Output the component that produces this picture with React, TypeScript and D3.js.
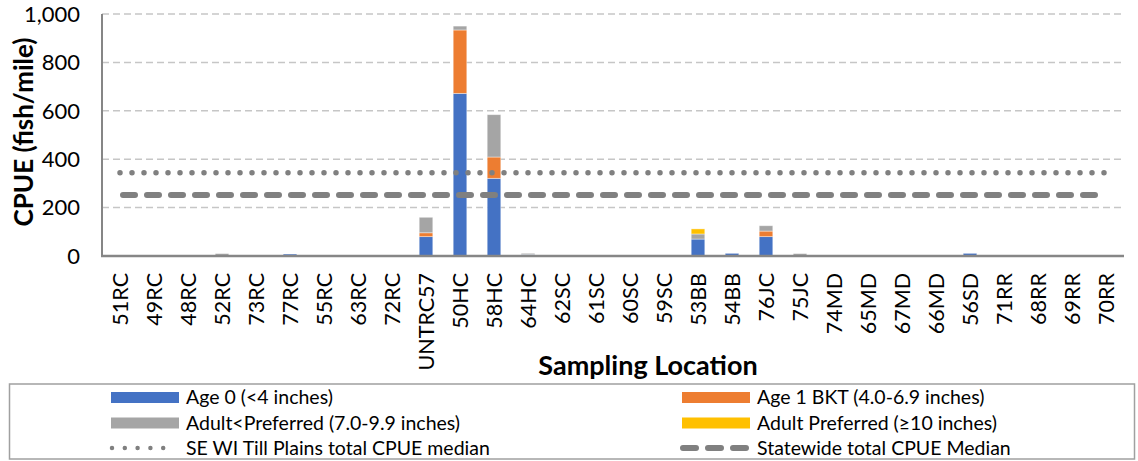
import React from 'react';
import * as d3 from 'd3';

const categories = [
  '51RC', '49RC', '48RC', '52RC', '73RC', '77RC', '55RC', '63RC', '72RC', 'UNTRC57',
  '50HC', '58HC', '64HC', '62SC', '61SC', '60SC', '59SC', '53BB', '54BB', '76JC',
  '75JC', '74MD', '65MD', '67MD', '66MD', '56SD', '71RR', '68RR', '69RR', '70RR',
];

// CPUE (fish/mile) per size class
const age0 = [0, 0, 0, 0, 0, 8, 0, 0, 0, 80, 672, 321, 6, 0, 0, 0, 0, 70, 11, 80, 0, 0, 0, 0, 0, 11, 0, 0, 0, 0];
const age1 = [0, 0, 0, 0, 0, 0, 0, 0, 0, 16, 262, 88, 0, 0, 0, 0, 0, 0, 0, 23, 0, 0, 0, 0, 0, 0, 0, 0, 0, 0];
const adultSub = [0, 0, 0, 10, 0, 0, 0, 0, 0, 64, 16, 175, 5, 0, 0, 0, 0, 21, 0, 22, 10, 0, 0, 0, 0, 0, 0, 0, 0, 0];
const adultPref = [0, 0, 0, 0, 0, 0, 0, 0, 0, 0, 0, 0, 0, 0, 0, 0, 0, 21, 0, 0, 0, 0, 0, 0, 0, 0, 0, 0, 0, 0];

const seriesNames = [
  'Age 0 (<4 inches)',
  'Age 1 BKT (4.0-6.9 inches)',
  'Adult<Preferred (7.0-9.9 inches)',
  'Adult Preferred (≥10 inches)',
];
const seriesColors = ['#4472c4', '#ed7d31', '#a5a5a5', '#ffc000'];

const regionMedian = 344;
const stateMedian = 252;
const yTicks = [0, 200, 400, 600, 800, 1000];

const W = 1138;
const H = 461;
const font = 'Lato, "Open Sans", sans-serif';

export default function App() {
  const x = d3.scaleBand<string>()
    .domain(categories)
    .range([103, 1123])
    .paddingInner(0.6)
    .paddingOuter(0.3);
  const y = d3.scaleLinear().domain([0, 1000]).range([256, 14]);

  const rows = categories.map((c, i) => ({
    cat: c, s0: age0[i], s1: age1[i], s2: adultSub[i], s3: adultPref[i],
  }));
  const keys = ['s0', 's1', 's2', 's3'];
  const stacked = d3.stack<any>().keys(keys)(rows);

  const cx = (c: string) => (x(c) as number) + x.bandwidth() / 2;
  const lineX0 = cx(categories[0]);
  const lineX1 = cx(categories[categories.length - 1]);
  const fmt = d3.format(',');

  return (
    <svg width={W} height={H} style={{ position: 'absolute', left: 0, top: 0 }} fontFamily={font}>
      <rect width={W} height={H} fill="#fff" />
      {/* gridlines */}
      {yTicks.filter(t => t > 0).map(t => (
        <line key={t} x1={102} x2={1124} y1={y(t)} y2={y(t)}
          stroke="#c6c6c6" strokeWidth={1.5} strokeDasharray="7,4" />
      ))}
      {/* bars */}
      {stacked.map((layer, k) => (
        <g key={k} fill={seriesColors[k]}>
          {layer.map((d, i) => d[1] - d[0] > 0 ? (
            <rect key={i} x={x(categories[i])} width={x.bandwidth()}
              y={y(d[1])} height={y(d[0]) - y(d[1])}
              stroke="#ffffff" strokeOpacity={0.5} strokeWidth={0.8} />
          ) : null)}
        </g>
      ))}
      {/* medians */}
      <line x1={lineX0} x2={lineX1} y1={y(regionMedian)} y2={y(regionMedian)}
        stroke="#808080" strokeWidth={5.5} strokeLinecap="round" strokeDasharray="0,12" />
      <line x1={lineX0 + 3} x2={lineX1} y1={y(stateMedian)} y2={y(stateMedian)}
        stroke="#808080" strokeWidth={6} strokeLinecap="round" strokeDasharray="12,12" />
      {/* axes */}
      <line x1={102} x2={102} y1={y(1000)} y2={y(0)} stroke="#868686" strokeWidth={2} />
      <line x1={101} x2={1124} y1={y(0)} y2={y(0)} stroke="#868686" strokeWidth={2.5} />
      {yTicks.map(t => (
        <text key={t} x={80} y={y(t)} dy="0.35em" textAnchor="end" fontSize={22} fill="#000">{fmt(t)}</text>
      ))}
      {categories.map(c => (
        <text key={c} transform={`translate(${cx(c)},273) rotate(-90)`} dy="0.35em"
          textAnchor="end" fontSize={21.5} fill="#000">{c}</text>
      ))}
      <text transform="translate(24,132) rotate(-90)" dy="0.35em" textAnchor="middle"
        fontSize={26} fontWeight="bold" fill="#000">CPUE (fish/mile)</text>
      <text x={648} y={375} textAnchor="middle" fontSize={27} fontWeight="bold" fill="#000">Sampling Location</text>
      {/* legend */}
      <rect x={9.5} y={384} width={1125} height={75} fill="none" stroke="#a0a0a0" strokeWidth={1.5} />
      {seriesNames.map((name, k) => {
        const col = k % 2;
        const row = Math.floor(k / 2);
        const sx = col === 0 ? 111 : 682;
        const ty = row === 0 ? 397.5 : 423;
        return (
          <g key={name}>
            <rect x={sx} y={ty - 5.5} width={68} height={11} fill={seriesColors[k]} />
            <text x={sx + 75} y={ty} dy="0.35em" fontSize={19.5} fill="#000">{name}</text>
          </g>
        );
      })}
      <line x1={112} x2={176} y1={448} y2={448} stroke="#808080" strokeWidth={4.5}
        strokeLinecap="round" strokeDasharray="0,12.8" />
      <text x={186} y={448} dy="0.35em" fontSize={19.5} fill="#000">SE WI Till Plains total CPUE median</text>
      <line x1={683} x2={746} y1={448} y2={448} stroke="#808080" strokeWidth={6}
        strokeLinecap="round" strokeDasharray="13,12" />
      <text x={757} y={448} dy="0.35em" fontSize={19.5} fill="#000">Statewide total CPUE Median</text>
    </svg>
  );
}
